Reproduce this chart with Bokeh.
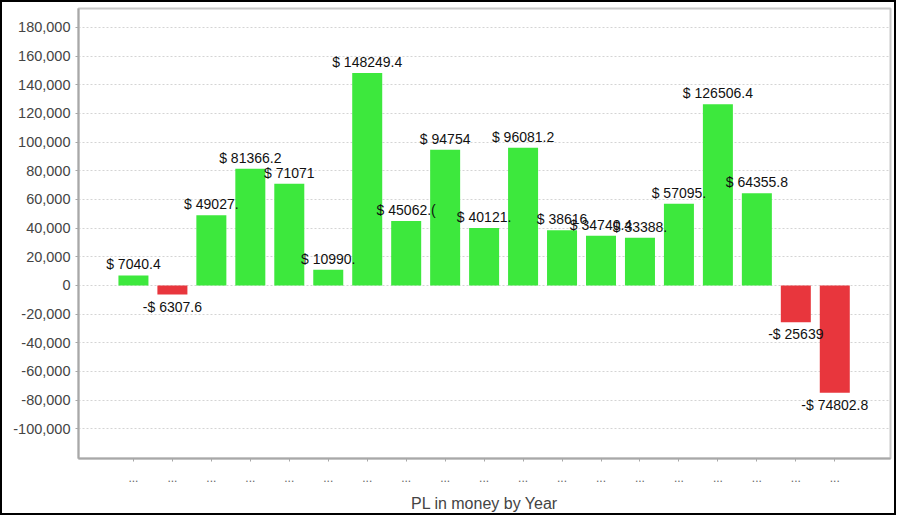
from bokeh.plotting import figure
from bokeh.models import ColumnDataSource, Range1d, FixedTicker, NumeralTickFormatter
from bokeh.embed import file_html
from bokeh.resources import INLINE
from bokeh.core.properties import value

# ---- data ----
categories = ["..."] * 19
pl_values = [7040.4, -6307.6, 49027.5, 81366.2, 71071.0, 10990.5, 148249.4,
             45062.0, 94754.0, 40121.5, 96081.2, 38616.0, 34740.4, 33388.5,
             57095.5, 126506.4, 64355.8, -25639.0, -74802.8]
pl_labels = ["$ 7040.4", "-$ 6307.6", "$ 49027.", "$ 81366.2", "$ 71071",
             "$ 10990.", "$ 148249.4", "$ 45062.(", "$ 94754", "$ 40121.",
             "$ 96081.2", "$ 38616", "$ 34740.4", "$ 33388.", "$ 57095.",
             "$ 126506.4", "$ 64355.8", "-$ 25639", "-$ 74802.8"]
y_ticks = [-100000, -80000, -60000, -40000, -20000, 0, 20000, 40000, 60000,
           80000, 100000, 120000, 140000, 160000, 180000]

GREEN = "#3de83d"
RED = "#e8363d"

xs = list(range(len(pl_values)))
colors = [GREEN if v >= 0 else RED for v in pl_values]
pos = [i for i, v in enumerate(pl_values) if v >= 0]
neg = [i for i, v in enumerate(pl_values) if v < 0]

bars = ColumnDataSource(dict(x=xs, top=pl_values, color=colors))
pos_src = ColumnDataSource(dict(x=[xs[i] for i in pos], y=[pl_values[i] for i in pos],
                                t=[pl_labels[i] for i in pos]))
neg_src = ColumnDataSource(dict(x=[xs[i] for i in neg], y=[pl_values[i] for i in neg],
                                t=[pl_labels[i] for i in neg]))

p = figure(width=896, height=515, output_backend="svg", toolbar_location=None,
           x_range=Range1d(-1.41, 19.43), y_range=Range1d(-120700, 193250),
           min_border_left=76, min_border_right=8, min_border_top=6,
           min_border_bottom=59)
p.styles = {"border": "2px solid black"}

p.vbar(x="x", top="top", bottom=0, width=0.77, fill_color="color",
       line_color=None, source=bars)

p.text(x="x", y="y", text="t", source=pos_src, text_align="center",
       text_baseline="bottom", y_offset=-3, text_font=value("Liberation Sans"),
       text_font_size="14px", text_color="#111111")
p.text(x="x", y="y", text="t", source=neg_src, text_align="center",
       text_baseline="top", y_offset=4, text_font=value("Liberation Sans"),
       text_font_size="14px", text_color="#111111")

# axes
p.xaxis.ticker = FixedTicker(ticks=xs)
p.xaxis.major_label_overrides = {i: c for i, c in zip(xs, categories)}
p.xaxis.axis_label = "PL in money by Year"
p.xaxis.axis_label_text_font = "Liberation Sans"
p.xaxis.axis_label_text_font_size = "16px"
p.xaxis.axis_label_text_font_style = "normal"
p.xaxis.axis_label_text_color = "#444444"
p.xaxis.axis_label_standoff = 10
p.xaxis.major_label_text_font = "Liberation Sans"
p.xaxis.major_label_text_font_size = "12px"
p.xaxis.major_label_text_color = "#666666"
p.xaxis.major_label_standoff = 11
p.xaxis.minor_tick_line_color = None

p.yaxis.ticker = FixedTicker(ticks=y_ticks)
p.yaxis.formatter = NumeralTickFormatter(format="0,0")
p.yaxis.major_label_text_font = "Liberation Sans"
p.yaxis.major_label_text_font_size = "14.5px"
p.yaxis.major_label_text_color = "#444444"
p.yaxis.major_label_standoff = 5
p.yaxis.minor_tick_line_color = None

for ax in (p.xaxis, p.yaxis):
    ax.axis_line_color = "#a8a8a8"
    ax.axis_line_width = 2
    ax.major_tick_line_color = "#a8a8a8"
    ax.major_tick_in = 0
    ax.major_tick_out = 3

p.xgrid.grid_line_color = None
p.ygrid.grid_line_color = "#d4d4d4"
p.ygrid.grid_line_dash = "2 2"

p.outline_line_color = "#c8c8c8"
p.outline_line_width = 2
p.background_fill_color = "white"
p.border_fill_color = "white"

open("out.html", "w").write(file_html(p, INLINE))
